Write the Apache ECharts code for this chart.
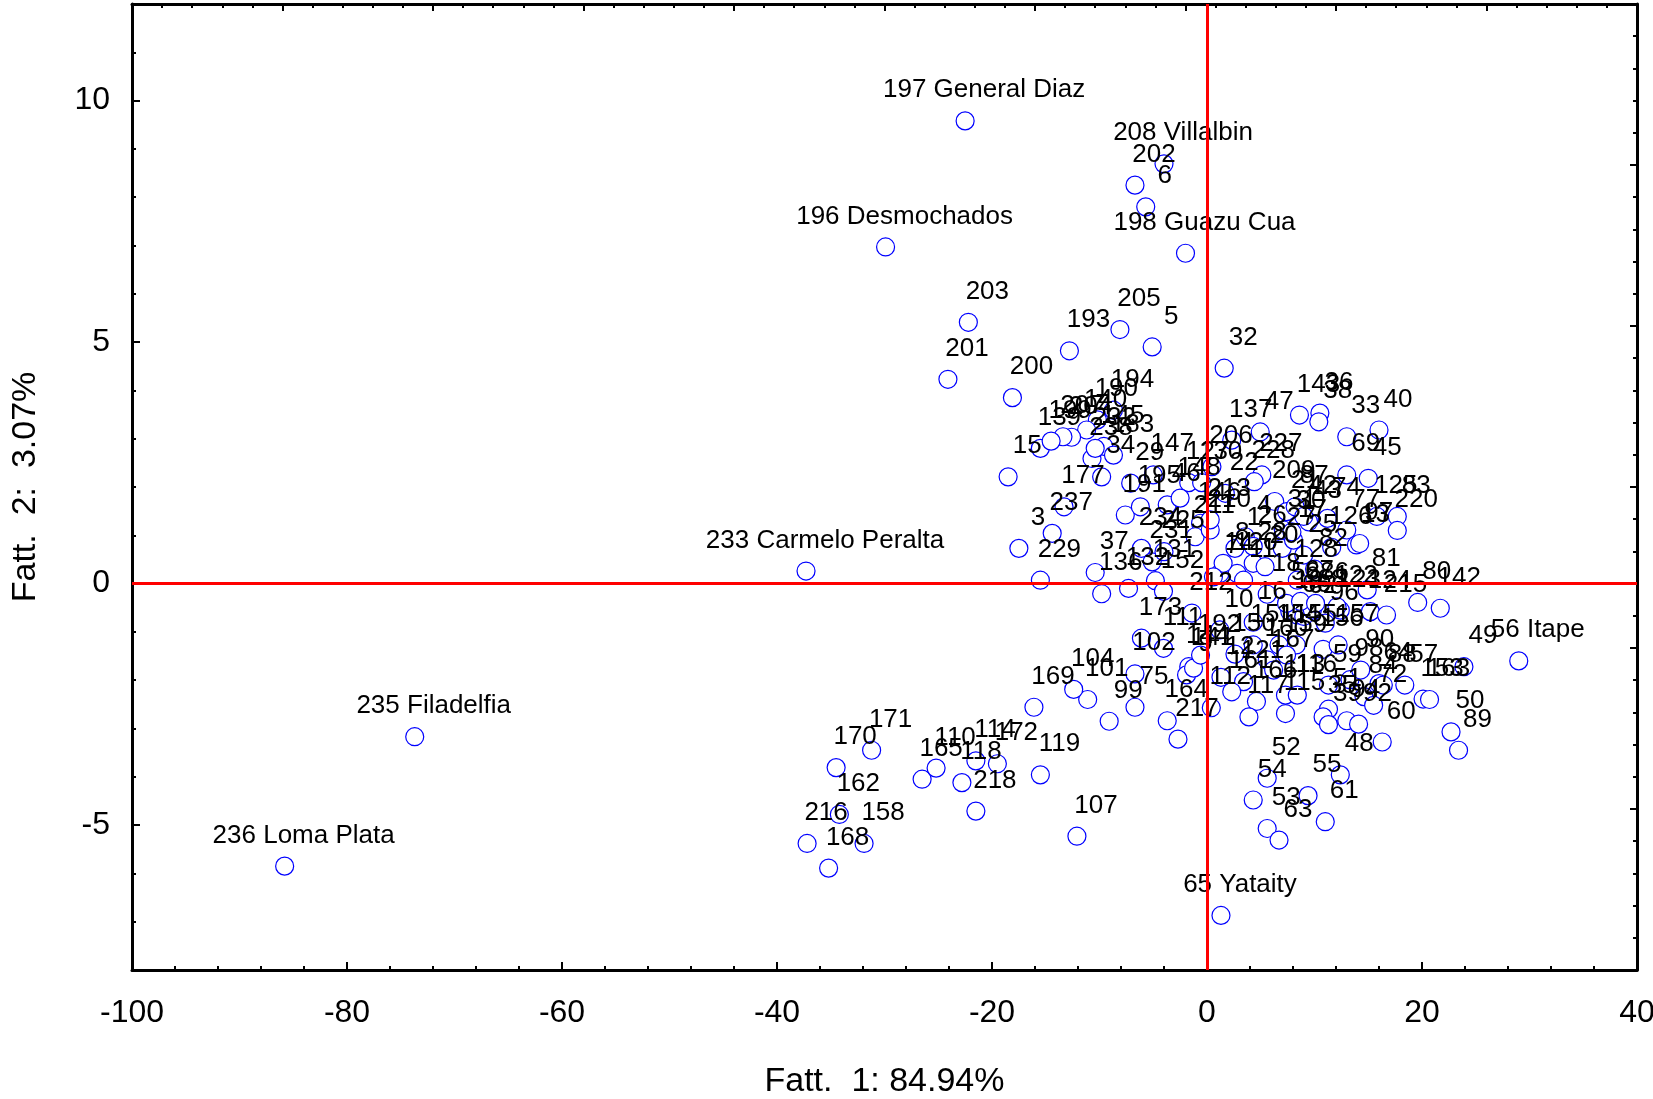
<!DOCTYPE html>
<html><head><meta charset="utf-8">
<script src="https://cdn.jsdelivr.net/npm/echarts@6/dist/echarts.min.js"></script>
<style>html,body{margin:0;padding:0;background:#fff}#c{width:1653px;height:1099px}</style>
</head><body><div id="c"></div>
<script>
// Point labels (case numbers / place names)
const pointLabels = [
"236 Loma Plata","235 Filadelfia","233 Carmelo Peralta","197 General Diaz","196 Desmochados","208 Villalbin","202","6","198 Guazu Cua","203",
"201","193","205","5","32","200","194","190","140","204",
"207","139","199","145","238","232","183","34","15","177",
"237","3","229","37","136","132","131","152","212","234",
"231","191","29","195","225","147","127","130","206","137",
"47","143","36","38","33","40","22","227","228","209",
"21","87","43","74","77","126","13","69","45","83",
"220","46","148","146","211","210","213","14","1","4",
"26","28","120","27","17","25","82","128","18","19",
"66","62","68","96","123","124","215","80","142","16",
"10","31","30","97","81","58","67","86","122","42",
"125","8","7","11","20","173","111","102","75","99",
"101","104","169","164","217","144","9","141","192","12",
"150","151","154","155","156","157","159","160","121","161",
"166","167","113","115","116","117","59","51","35","39",
"94","92","98","90","84","72","64","88","57","153",
"163","60","48","52","54","55","61","53","63","65 Yataity",
"50","89","49","56 Itape","112","171","170","162","216","168",
"158","165","110","118","114","172","218","119","107"
];
// Fatt. 1 scores
const fatt1 = [
-85.8,-73.7,-37.3,-22.5,-29.9,-4.0,-6.7,-5.7,-2.0,-22.2,
-24.1,-12.8,-8.1,-5.1,1.6,-18.1,-8.7,-10.2,-11.2,-12.6,
-13.4,-15.5,-14.5,-9.6,-10.7,-10.4,-8.7,-9.8,-18.5,-13.3,
-14.4,-17.5,-15.5,-10.4,-9.8,-7.3,-4.8,-4.05,-1.4,-6.1,
-5.1,-7.6,-7.1,-6.2,-4.0,-5.0,-1.7,-0.5,0.46,2.3,
4.95,8.6,10.5,10.4,13.0,16.0,1.7,5.1,4.4,6.3,
7.4,8.2,9.45,11.2,13.0,11.6,13.9,13.0,15.0,17.7,
17.7,-3.7,-2.5,-0.6,-1.1,0.3,0.3,1.2,2.6,3.56,
4.3,4.3,2.8,7.0,8.05,9.0,10.0,8.4,5.6,7.7,
8.4,9.0,9.8,11.0,12.4,15.2,16.7,19.6,21.7,4.3,
1.2,7.1,7.9,14.2,14.9,7.4,8.7,10.1,12.1,9.0,
15.8,1.5,0.6,3.4,5.4,-6.1,-4.05,-6.7,-6.7,-9.1,
-11.1,-12.4,-16.1,-3.7,-2.7,-1.7,-1.9,-1.25,-0.6,1.3,
2.6,4.3,6.7,8.3,10.8,12.2,7.4,5.6,3.4,2.3,
4.6,6.2,7.3,7.3,8.4,3.9,11.3,11.3,10.8,11.3,
13.0,14.1,13.3,14.3,14.6,15.5,16.0,16.4,18.4,20.1,
20.7,16.3,12.4,5.6,4.3,9.4,11.0,5.6,6.7,1.3,
22.7,23.4,23.9,29.0,0.4,-31.2,-34.5,-34.2,-37.2,-35.2,
-31.9,-26.5,-25.2,-22.8,-21.5,-19.5,-21.5,-15.5,-12.1
];
// Fatt. 2 scores
const fatt2 = [
-5.85,-3.17,0.26,9.58,6.97,8.69,8.25,7.80,6.84,5.41,
4.23,4.82,5.26,4.90,4.46,3.85,3.59,3.39,3.18,3.03,
3.04,2.80,2.95,2.84,2.59,2.80,2.66,2.21,2.21,1.59,
1.04,0.73,0.07,0.23,-0.21,-0.10,0.06,-0.16,-0.61,0.73,
0.45,1.42,2.08,1.59,0.66,2.25,2.09,2.09,2.42,2.97,
3.14,3.49,3.53,3.35,3.04,3.18,1.87,2.25,2.11,1.70,
1.49,1.59,1.28,1.35,1.11,0.75,0.80,2.25,2.18,1.39,
1.10,1.63,1.77,1.25,0.97,1.11,1.32,0.21,0.73,0.97,
0.77,0.42,0.21,0.73,0.90,0.59,0.30,0.07,-0.22,-0.58,
-0.65,-0.68,-0.55,-0.82,-0.55,-0.58,-0.65,-0.39,-0.51,-0.80,
-0.96,1.11,1.07,0.83,-0.13,-0.41,-0.37,-0.41,-0.48,1.39,
1.39,0.42,0.14,0.07,0.35,-1.13,-1.34,-1.87,-2.56,-2.85,
-2.40,-2.19,-2.56,-2.84,-3.22,-1.72,-1.89,-1.75,-1.48,-1.94,
-1.46,-1.27,-1.27,-1.27,-1.36,-1.27,-1.48,-1.58,-2.03,-2.24,
-2.44,-1.79,-2.31,-2.69,-2.31,-2.76,-2.10,-2.60,-2.76,-2.92,
-2.84,-2.91,-1.99,-1.79,-2.34,-2.52,-2.07,-2.10,-2.10,-2.39,
-2.40,-3.28,-3.96,-4.03,-4.48,-4.39,-4.93,-5.07,-5.31,-6.87,
-3.07,-3.45,-1.72,-1.60,-2.57,-3.45,-3.81,-4.78,-5.38,-5.89,
-5.38,-4.05,-3.82,-4.12,-3.67,-3.73,-4.71,-3.96,-5.23
];
// Axis settings
const xRange = [-100, 40];
const yRange = [-8, 12];
const xMajorStep = 20;
const yMajorTicks = [-5, 0, 5, 10];
const xAxisTitle = 'Fatt.  1: 84.94%';
const yAxisTitle = 'Fatt.  2:  3.07%';

const FONT = '"Liberation Sans", Arial, sans-serif';
const points = fatt1.map((x, i) => [x, fatt2[i], pointLabels[i]]);

const black = '#000';
const chart = echarts.init(document.getElementById('c'), null, {renderer: 'canvas'});
chart.setOption({
  animation: false,
  backgroundColor: '#fff',
  grid: {left: 132, right: 16, top: 4, bottom: 129, containLabel: false, outerBoundsMode: 'none'},
  xAxis: [
    {
      type: 'value', position: 'bottom', min: xRange[0], max: xRange[1], interval: xMajorStep,
      axisLine: {show: true, onZero: false, lineStyle: {color: black, width: 3}},
      axisTick: {show: true, inside: true, length: 8, lineStyle: {color: black, width: 2}},
      minorTick: {show: true, splitNumber: 5, length: 4, lineStyle: {color: black, width: 2}},
      axisLabel: {color: black, fontSize: 32, fontFamily: FONT, margin: 27},
      splitLine: {show: false},
      name: xAxisTitle, nameLocation: 'middle', nameGap: 95,
      nameTextStyle: {color: black, fontSize: 34, fontFamily: FONT}
    },
    {
      type: 'value', position: 'top', min: xRange[0], max: xRange[1], interval: (xRange[1]-xRange[0])/10,
      axisLine: {show: true, onZero: false, lineStyle: {color: black, width: 3}},
      axisTick: {show: true, inside: true, length: 7, lineStyle: {color: black, width: 2}},
      minorTick: {show: true, splitNumber: 5, length: 4, lineStyle: {color: black, width: 2}},
      axisLabel: {show: false}, splitLine: {show: false}
    }
  ],
  yAxis: [
    {
      type: 'value', position: 'left', min: yRange[0], max: yRange[1], interval: 1,
      axisLine: {show: true, onZero: false, lineStyle: {color: black, width: 3}},
      axisTick: {show: true, inside: true, length: 4, lineStyle: {color: black, width: 2}},
      axisLabel: {color: black, fontSize: 32, fontFamily: FONT, margin: 22,
        customValues: yMajorTicks,
        formatter: v => (yMajorTicks.indexOf(Math.round(v)) >= 0 && Math.abs(v - Math.round(v)) < 1e-6) ? String(Math.round(v)) : ''},
      splitLine: {show: false},
      name: yAxisTitle, nameLocation: 'middle', nameGap: 89, nameRotate: 90,
      nameTextStyle: {color: black, fontSize: 34, fontFamily: FONT}
    },
    {
      type: 'value', position: 'left', min: yRange[0], max: yRange[1],
      axisLine: {show: false, onZero: false},
      axisTick: {show: true, inside: true, length: 8, customValues: yMajorTicks, lineStyle: {color: black, width: 2}},
      axisLabel: {show: false}, splitLine: {show: false}
    },
    {
      type: 'value', position: 'right', min: yRange[0], max: yRange[1], interval: (yRange[1]-yRange[0])/6,
      axisLine: {show: true, onZero: false, lineStyle: {color: black, width: 3}},
      axisTick: {show: true, inside: true, length: 7, lineStyle: {color: black, width: 2}},
      minorTick: {show: true, splitNumber: 5, length: 4, lineStyle: {color: black, width: 2}},
      axisLabel: {show: false}, splitLine: {show: false}
    }
  ],
  series: [
    {
      type: 'scatter', xAxisIndex: 0, yAxisIndex: 0, z: 2,
      data: points,
      symbol: 'circle', symbolSize: 18,
      itemStyle: {color: '#ffffff', borderColor: '#0000ff', borderWidth: 1.2, opacity: 1},
      label: {
        show: true, position: 'top', distance: 8, offset: [19, 0],
        formatter: p => p.data[2],
        color: black, fontSize: 26, fontFamily: FONT
      },
      emphasis: {disabled: true}
    },
    {
      type: 'scatter', xAxisIndex: 0, yAxisIndex: 0, data: [], z: 10,
      markLine: {
        silent: true, symbol: ['none', 'none'], z: 10,
        label: {show: false},
        lineStyle: {color: '#ff0000', width: 3, type: 'solid'},
        emphasis: {disabled: true},
        data: [{xAxis: 0}, {yAxis: 0}]
      }
    }
  ]
});
</script></body></html>
